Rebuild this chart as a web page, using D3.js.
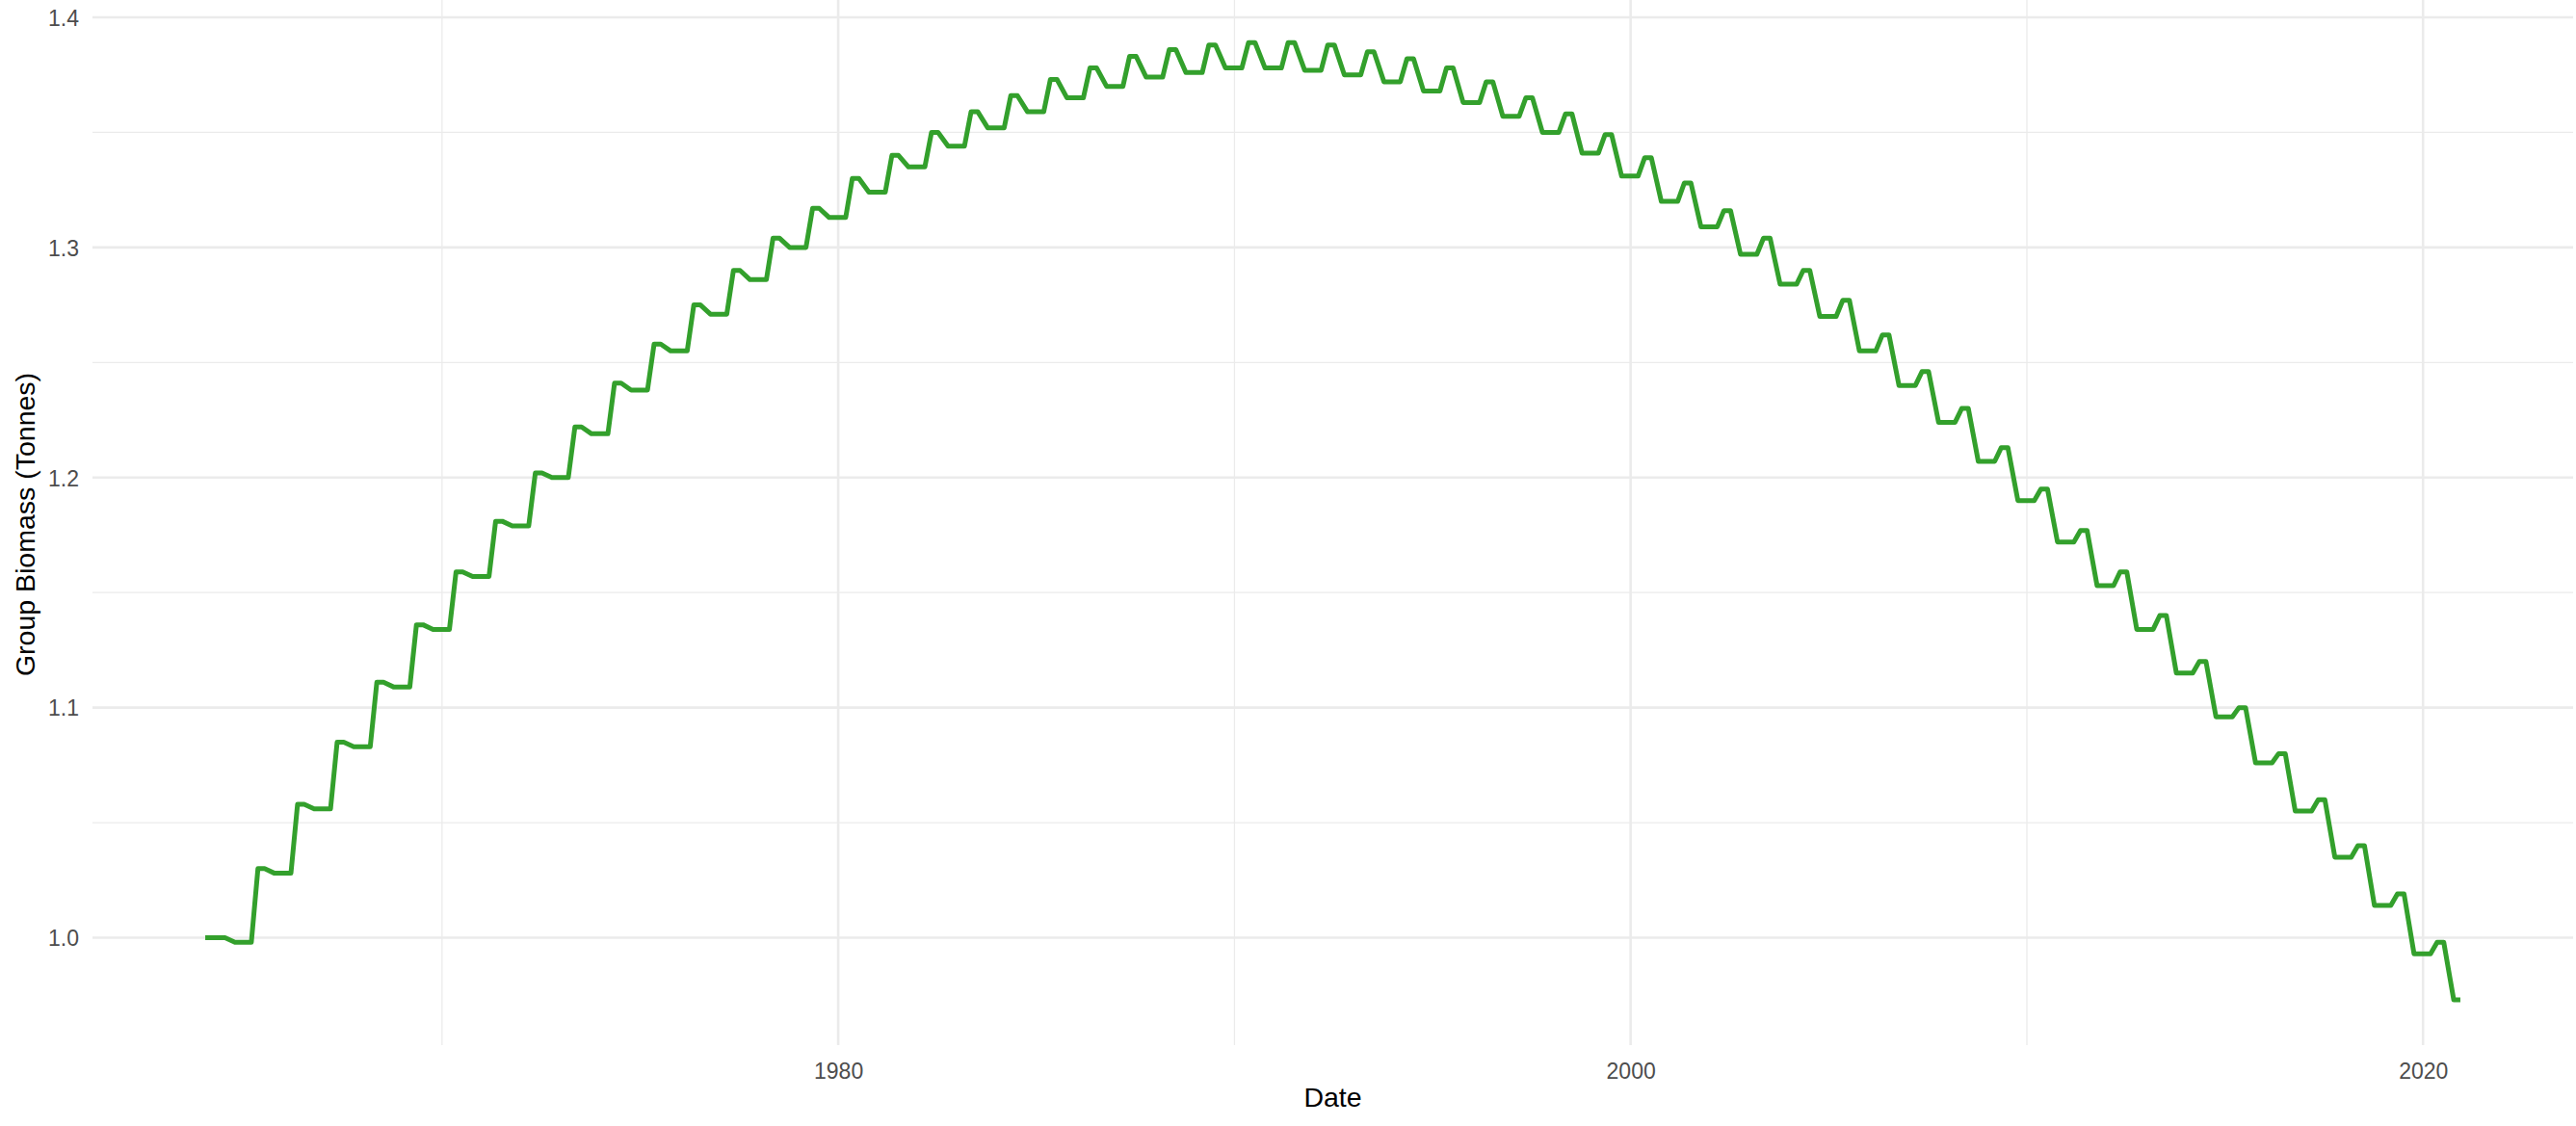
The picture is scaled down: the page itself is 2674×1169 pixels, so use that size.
<!DOCTYPE html>
<html>
<head>
<meta charset="utf-8">
<script src="https://cdn.jsdelivr.net/npm/d3@7"></script>
<style>
  html, body { margin: 0; padding: 0; background: #ffffff; }
  svg { display: block; }
  text { font-family: "Liberation Sans", Arial, Helvetica, sans-serif; }
</style>
</head>
<body>
<script>
// ---- data ----
const years = [1964,1965,1966,1967,1968,1969,1970,1971,1972,1973,1974,1975,1976,1977,1978,1979,
  1980,1981,1982,1983,1984,1985,1986,1987,1988,1989,1990,1991,1992,1993,1994,1995,1996,1997,1998,1999,
  2000,2001,2002,2003,2004,2005,2006,2007,2008,2009,2010,2011,2012,2013,2014,2015,2016,2017,2018,2019,2020];
// seasonal maximum (May–July) of each year
const peakValues = [1.000,1.030,1.058,1.085,1.111,1.136,1.159,1.181,1.202,1.222,1.241,1.258,1.275,1.290,1.304,1.317,
  1.330,1.340,1.350,1.359,1.366,1.373,1.378,1.383,1.386,1.388,1.389,1.389,1.388,1.385,1.382,1.378,1.372,1.365,1.358,1.349,
  1.339,1.328,1.316,1.304,1.290,1.277,1.262,1.246,1.230,1.213,1.195,1.177,1.159,1.140,1.120,1.100,1.080,1.060,1.040,1.019,0.998];
// seasonal minimum (October – March of next year)
const troughValues = [0.998,1.028,1.056,1.083,1.109,1.134,1.157,1.179,1.200,1.219,1.238,1.255,1.271,1.286,1.300,1.313,
  1.324,1.335,1.344,1.352,1.359,1.365,1.370,1.374,1.376,1.378,1.378,1.377,1.375,1.372,1.368,1.363,1.357,1.350,1.341,1.331,
  1.320,1.309,1.297,1.284,1.270,1.255,1.240,1.224,1.207,1.190,1.172,1.153,1.134,1.115,1.096,1.076,1.055,1.035,1.014,0.993,0.973];
// months (0 = Jan) at which the seasonal cycle changes direction
const seasonMonths = { riseStart: 2, peak: 4, peakEnd: 6, trough: 9, last: 11 };
const dayOfMonth = 10;

const xMajorTicks = [1980, 2000, 2020];
const xMinorTicks = [1970, 1990, 2010];
const yMajorTicks = [1.0, 1.1, 1.2, 1.3, 1.4];
const yMinorTicks = [1.05, 1.15, 1.25, 1.35];

const xTitle = "Date";
const yTitle = "Group Biomass (Tonnes)";

// ---- build series (only the vertices of the seasonal cycle) ----
const dt = (y, m) => new Date(y, m, dayOfMonth);
const series = [];
years.forEach((yr, i) => {
  if (i === 0) {
    series.push({ date: new Date(yr, 0, dayOfMonth), value: peakValues[0] });
    series.push({ date: dt(yr, seasonMonths.peakEnd), value: peakValues[0] });
    series.push({ date: dt(yr, seasonMonths.trough), value: troughValues[0] });
  } else {
    series.push({ date: dt(yr, seasonMonths.riseStart), value: troughValues[i - 1] });
    series.push({ date: dt(yr, seasonMonths.peak), value: peakValues[i] });
    series.push({ date: dt(yr, seasonMonths.peakEnd), value: peakValues[i] });
    series.push({ date: dt(yr, seasonMonths.trough), value: troughValues[i] });
  }
});
series.push({ date: dt(years[years.length - 1], seasonMonths.last), value: troughValues[troughValues.length - 1] });

// ---- layout ----
const W = 2674, H = 1169;
const panel = { left: 96, right: 2671, top: 0, bottom: 1085 };

const svg = d3.select("body").append("svg").attr("width", W).attr("height", H);
svg.append("rect").attr("width", W).attr("height", H).attr("fill", "#ffffff");

// x scale: data extent expanded by 5% on each side (ggplot default)
const ext = d3.extent(series, d => d.date);
const span = ext[1] - ext[0];
const x = d3.scaleTime()
  .domain([new Date(+ext[0] - 0.05 * span), new Date(+ext[1] + 0.05 * span)])
  .range([panel.left, panel.right]);
const y = d3.scaleLinear().domain([1.0, 1.4]).range([973.5, 18]);

const toDate = yr => new Date(yr, 0, 1);

const grid = svg.append("g");
// minor grid
grid.selectAll(".ymin").data(yMinorTicks).enter().append("line")
  .attr("x1", panel.left).attr("x2", panel.right)
  .attr("y1", d => y(d)).attr("y2", d => y(d))
  .attr("stroke", "#ebebeb").attr("stroke-width", 1.3);
grid.selectAll(".xmin").data(xMinorTicks).enter().append("line")
  .attr("y1", panel.top).attr("y2", panel.bottom)
  .attr("x1", d => x(toDate(d))).attr("x2", d => x(toDate(d)))
  .attr("stroke", "#ebebeb").attr("stroke-width", 1.3);
// major grid
grid.selectAll(".ymaj").data(yMajorTicks).enter().append("line")
  .attr("x1", panel.left).attr("x2", panel.right)
  .attr("y1", d => y(d)).attr("y2", d => y(d))
  .attr("stroke", "#ebebeb").attr("stroke-width", 2.6);
grid.selectAll(".xmaj").data(xMajorTicks).enter().append("line")
  .attr("y1", panel.top).attr("y2", panel.bottom)
  .attr("x1", d => x(toDate(d))).attr("x2", d => x(toDate(d)))
  .attr("stroke", "#ebebeb").attr("stroke-width", 2.6);

// line
const line = d3.line().x(d => x(d.date)).y(d => y(d.value));
svg.append("path").datum(series)
  .attr("d", line)
  .attr("fill", "none")
  .attr("stroke", "#33a02c")
  .attr("stroke-width", 5)
  .attr("stroke-linejoin", "round")
  .attr("stroke-linecap", "butt");

// axes (text only, like theme_minimal)
const xAxis = d3.axisBottom(x)
  .tickValues(xMajorTicks.map(toDate))
  .tickFormat(d3.timeFormat("%Y"))
  .tickSize(0).tickPadding(0);
const gx = svg.append("g").attr("transform", `translate(0,${panel.bottom})`).call(xAxis);
gx.select(".domain").remove();
gx.selectAll("text")
  .attr("y", 35).attr("dy", null)
  .attr("fill", "#4d4d4d")
  .style("font-size", "23px")
  .style("font-family", "'Liberation Sans', Arial, sans-serif");

const yAxis = d3.axisLeft(y)
  .tickValues(yMajorTicks)
  .tickFormat(d3.format(".1f"))
  .tickSize(0).tickPadding(0);
const gy = svg.append("g").attr("transform", `translate(${panel.left},0)`).call(yAxis);
gy.select(".domain").remove();
gy.selectAll("text")
  .attr("x", -14).attr("dy", "0.36em")
  .attr("fill", "#4d4d4d")
  .style("font-size", "23px")
  .style("font-family", "'Liberation Sans', Arial, sans-serif");

// titles
svg.append("text")
  .attr("x", (panel.left + panel.right) / 2).attr("y", 1149)
  .attr("text-anchor", "middle")
  .attr("fill", "#000000")
  .style("font-size", "28.5px")
  .text(xTitle);
svg.append("text")
  .attr("transform", `translate(36,${(panel.top + panel.bottom) / 2 + 2}) rotate(-90)`)
  .attr("text-anchor", "middle")
  .attr("fill", "#000000")
  .style("font-size", "28.5px")
  .text(yTitle);
</script>
</body>
</html>
